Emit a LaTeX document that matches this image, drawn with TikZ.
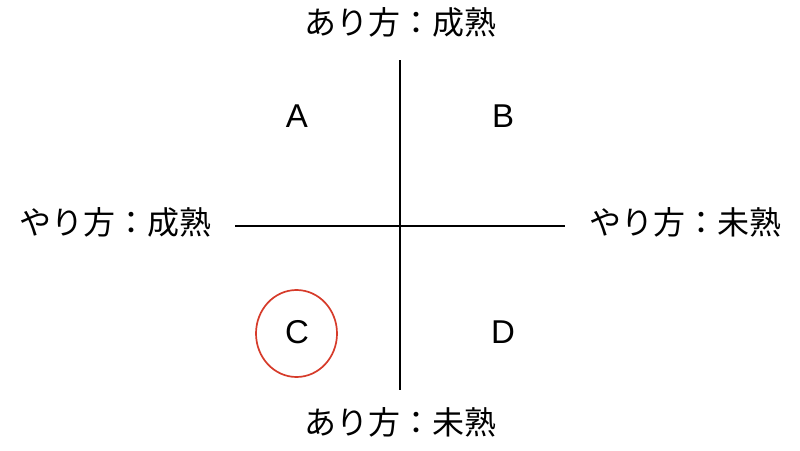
\documentclass[tikz,border=0pt]{standalone}
\usepackage{fontspec}
\setmainfont{Liberation Sans}
\newfontfamily\jp{Noto Sans CJK JP}
\definecolor{circred}{HTML}{D63B2A}
\begin{document}
\begin{tikzpicture}[x=1pt,y=-1pt,
  axis/.style={line width=1.5pt,black},
  jlabel/.style={font=\jp\fontsize{32}{36}\selectfont,inner sep=0pt},
  qlabel/.style={font=\fontsize{33}{36}\selectfont,inner sep=0pt}]
\useasboundingbox (0,0) rectangle (800,450);
\coordinate (vt) at (400,60);
\coordinate (vb) at (400,390);
\coordinate (hl) at (235,226);
\coordinate (hr) at (565,226);
\draw[axis] (vt) -- (vb);
\draw[axis] (hl) -- (hr);
\node[jlabel] (top) at (400,22) {あり方：成熟};
\node[jlabel] (bot) at (400,422) {あり方：未熟};
\node[jlabel] (left) at (115,222) {やり方：成熟};
\node[jlabel] (right) at (685,222) {やり方：未熟};
\node[qlabel] (A) at (297,116) {A};
\node[qlabel] (B) at (503,116) {B};
\node[qlabel] (C) at (297,332) {C};
\node[qlabel] (D) at (503,332) {D};
\draw[draw=circred,line width=1.7pt] (296.5,333.5) ellipse (40.5 and 43.5);
\end{tikzpicture}
\end{document}
